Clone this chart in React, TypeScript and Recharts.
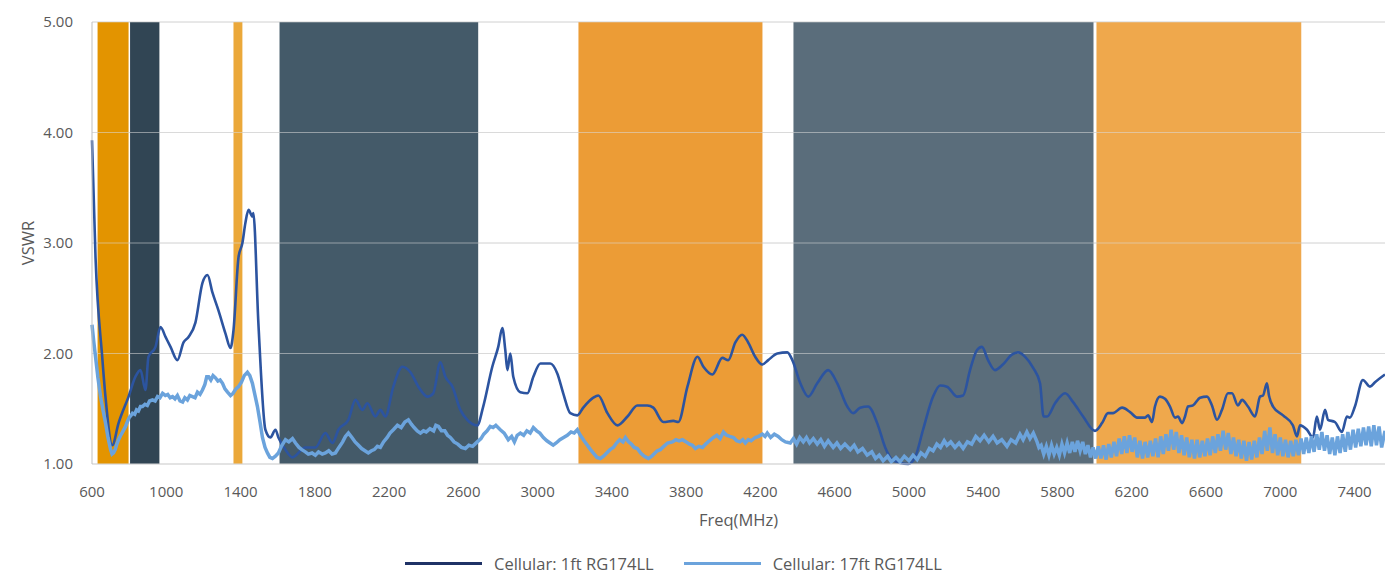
import React from 'react'
import { LineChart, Line, XAxis, YAxis, CartesianGrid, ReferenceArea, ReferenceLine, Legend } from 'recharts'

// 1ft cable
const freq1ft = [
  600, 619, 655, 673, 709, 743, 797, 834, 861, 888, 904, 942, 969, 996, 1023, 1060, 1093, 1120, 1157, 1195,
  1222, 1249, 1281, 1319, 1346, 1362, 1389, 1410, 1426, 1443, 1464, 1469, 1496, 1534, 1561, 1588, 1604, 1642, 1679, 1749,
  1803, 1857, 1895, 1927, 1981, 2019, 2056, 2083, 2126, 2153, 2180, 2223, 2272, 2315, 2358, 2406, 2438, 2476, 2503, 2541,
  2584, 2621, 2675, 2707, 2756, 2788, 2810, 2826, 2837, 2853, 2869, 2907, 2945, 2977, 3015, 3068, 3106, 3138, 3176, 3214,
  3246, 3300, 3327, 3376, 3430, 3484, 3537, 3591, 3623, 3677, 3731, 3758, 3807, 3861, 3893, 3941, 3995, 4027, 4065, 4102,
  4134, 4172, 4210, 4242, 4291, 4345, 4372, 4415, 4458, 4506, 4565, 4614, 4668, 4700, 4737, 4780, 4829, 4872, 4909, 4952,
  4996, 5033, 5076, 5130, 5168, 5205, 5259, 5292, 5329, 5366, 5393, 5426, 5463, 5506, 5554, 5588, 5626, 5669, 5706, 5725,
  5744, 5787, 5841, 5884, 5938, 6002, 6040, 6072, 6099, 6148, 6191, 6229, 6272, 6288, 6309, 6325, 6352, 6379, 6406, 6433,
  6449, 6471, 6487, 6503, 6530, 6568, 6605, 6632, 6659, 6686, 6718, 6740, 6772, 6794, 6826, 6864, 6891, 6907, 6928, 6939,
  6961, 7015, 7068, 7090, 7106, 7144, 7176, 7197, 7214, 7241, 7257, 7294, 7332, 7359, 7375, 7402, 7445, 7483, 7510, 7564,
]
const vswr1ft = [
  3.93, 2.87, 1.97, 1.6, 1.17, 1.37, 1.61, 1.79, 1.85, 1.67, 1.97, 2.06, 2.24, 2.15, 2.06, 1.94, 2.1, 2.15, 2.28, 2.64,
  2.71, 2.55, 2.39, 2.18, 2.05, 2.21, 2.87, 3.0, 3.18, 3.3, 3.24, 3.27, 2.28, 1.31, 1.24, 1.31, 1.24, 1.13, 1.06, 1.15,
  1.15, 1.28, 1.19, 1.31, 1.4, 1.58, 1.49, 1.55, 1.43, 1.49, 1.43, 1.7, 1.88, 1.83, 1.7, 1.61, 1.64, 1.92, 1.79, 1.7,
  1.49, 1.4, 1.35, 1.52, 1.88, 2.06, 2.23, 2.03, 1.85, 2.0, 1.79, 1.65, 1.64, 1.79, 1.91, 1.91, 1.82, 1.64, 1.46, 1.44,
  1.51, 1.6, 1.62, 1.46, 1.35, 1.43, 1.53, 1.53, 1.51, 1.38, 1.39, 1.38, 1.7, 1.97, 1.88, 1.81, 1.96, 1.94, 2.1, 2.17,
  2.1, 1.97, 1.9, 1.94, 2.0, 2.01, 1.94, 1.73, 1.61, 1.73, 1.85, 1.73, 1.52, 1.46, 1.51, 1.52, 1.37, 1.15, 1.04, 1.01,
  1.0, 1.06, 1.31, 1.61, 1.71, 1.7, 1.61, 1.62, 1.85, 2.03, 2.06, 1.94, 1.85, 1.9, 1.99, 2.01, 1.97, 1.87, 1.73, 1.43,
  1.43, 1.55, 1.64, 1.56, 1.43, 1.3, 1.37, 1.46, 1.46, 1.51, 1.47, 1.42, 1.42, 1.44, 1.38, 1.52, 1.61, 1.59, 1.52, 1.42,
  1.43, 1.37, 1.43, 1.52, 1.53, 1.6, 1.61, 1.53, 1.4, 1.49, 1.64, 1.64, 1.53, 1.58, 1.52, 1.43, 1.61, 1.62, 1.73, 1.62,
  1.52, 1.44, 1.35, 1.25, 1.35, 1.31, 1.24, 1.43, 1.31, 1.49, 1.4, 1.38, 1.29, 1.43, 1.42, 1.52, 1.76, 1.7, 1.74, 1.81,
]

// 17ft cable (noisy trace, read densely)
const freq17ft = [
  600, 610, 619, 632, 646, 660, 673, 686, 700, 708, 716, 725, 734, 743, 755, 768, 781, 790, 800, 810,
  818, 830, 840, 850, 861, 872, 885, 898, 910, 926, 940, 953, 966, 980, 995, 1008, 1021, 1034, 1047, 1060,
  1074, 1088, 1100, 1114, 1127, 1141, 1155, 1168, 1182, 1195, 1208, 1218, 1228, 1240, 1252, 1265, 1278, 1290, 1303, 1316,
  1330, 1346, 1360, 1375, 1389, 1405, 1420, 1437, 1450, 1464, 1478, 1491, 1505, 1518, 1532, 1545, 1558, 1572, 1588, 1604,
  1620, 1642, 1660, 1680, 1696, 1715, 1730, 1749, 1765, 1785, 1803, 1820, 1840, 1857, 1875, 1893, 1911, 1930, 1950, 1965,
  1981, 2000, 2017, 2035, 2052, 2070, 2088, 2105, 2120, 2137, 2153, 2170, 2190, 2205, 2223, 2245, 2265, 2285, 2304, 2320,
  2335, 2352, 2369, 2385, 2400, 2420, 2440, 2452, 2466, 2482, 2500, 2515, 2530, 2550, 2570, 2590, 2611, 2630, 2650, 2675,
  2695, 2710, 2728, 2745, 2760, 2775, 2799, 2820, 2842, 2860, 2875, 2890, 2907, 2925, 2942, 2960, 2977, 2995, 3012, 3031,
  3050, 3067, 3084, 3100, 3120, 3140, 3160, 3180, 3197, 3214, 3230, 3250, 3268, 3285, 3305, 3320, 3338, 3355, 3372, 3390,
  3408, 3425, 3442, 3460, 3473, 3490, 3505, 3520, 3537, 3555, 3575, 3597, 3615, 3632, 3645, 3661, 3680, 3700, 3726, 3745,
  3762, 3780, 3800, 3818, 3834, 3850, 3868, 3888, 3905, 3925, 3947, 3965, 3983, 4001, 4018, 4035, 4055, 4072, 4090, 4105,
  4119, 4135, 4150, 4172, 4190, 4210, 4225, 4237, 4255, 4275, 4296, 4315, 4335, 4361, 4378, 4395, 4412, 4431, 4448, 4465,
  4485, 4506, 4525, 4545, 4565, 4592, 4612, 4632, 4655, 4684, 4705, 4725, 4750, 4775, 4800, 4820, 4840, 4861, 4885, 4905,
  4930, 4952, 4975, 5000, 5022, 5044, 5065, 5088, 5110, 5130, 5150, 5170, 5190, 5205, 5225, 5248, 5270, 5292, 5315, 5338,
  5360, 5383, 5405, 5430, 5453, 5475, 5500, 5528, 5550, 5575, 5598, 5615, 5635, 5652, 5670, 5690, 5700, 5712, 5726, 5740,
  5754, 5768, 5782, 5796, 5810, 5824, 5838, 5852, 5866, 5880, 5894, 5908, 5922, 5936, 5950, 5964, 5978, 5992, 6006, 6020,
  6034, 6048, 6062, 6076, 6090, 6104, 6118, 6132, 6146, 6160, 6174, 6188, 6202, 6216, 6230, 6244, 6258, 6272, 6286, 6300,
  6314, 6328, 6342, 6356, 6370, 6384, 6398, 6412, 6426, 6440, 6454, 6468, 6482, 6496, 6510, 6524, 6538, 6552, 6566, 6580,
  6594, 6608, 6622, 6636, 6650, 6664, 6678, 6692, 6706, 6720, 6734, 6748, 6762, 6776, 6790, 6804, 6818, 6832, 6846, 6860,
  6874, 6888, 6902, 6916, 6930, 6944, 6958, 6972, 6986, 7000, 7014, 7028, 7042, 7056, 7070, 7084, 7098, 7112, 7126, 7140,
  7154, 7168, 7182, 7196, 7210, 7224, 7238, 7252, 7266, 7280, 7294, 7308, 7322, 7336, 7350, 7364, 7378, 7392, 7406, 7420,
  7434, 7448, 7462, 7476, 7490, 7504, 7518, 7532, 7546, 7564,
]
const vswr17ft = [
  2.26, 2.1, 1.97, 1.78, 1.61, 1.48, 1.37, 1.24, 1.13, 1.09, 1.1, 1.13, 1.18, 1.22, 1.26, 1.3, 1.34, 1.38, 1.42, 1.44,
  1.46, 1.45, 1.49, 1.48, 1.52, 1.52, 1.54, 1.53, 1.57, 1.58, 1.57, 1.61, 1.6, 1.64, 1.62, 1.63, 1.6, 1.61, 1.59, 1.62,
  1.57, 1.56, 1.6, 1.58, 1.62, 1.61, 1.6, 1.65, 1.63, 1.67, 1.72, 1.79, 1.79, 1.76, 1.8, 1.78, 1.75, 1.76, 1.73, 1.68,
  1.65, 1.62, 1.64, 1.68, 1.7, 1.74, 1.8, 1.83, 1.8, 1.73, 1.62, 1.52, 1.38, 1.24, 1.15, 1.1, 1.06, 1.05, 1.07, 1.1,
  1.16, 1.22, 1.2, 1.23, 1.19, 1.15, 1.13, 1.11, 1.09, 1.1, 1.08, 1.11, 1.09, 1.1, 1.12, 1.09, 1.1, 1.15, 1.2, 1.25,
  1.28, 1.24, 1.2, 1.17, 1.14, 1.12, 1.1, 1.12, 1.13, 1.16, 1.15, 1.2, 1.24, 1.28, 1.31, 1.35, 1.33, 1.38, 1.4, 1.36,
  1.33, 1.3, 1.28, 1.3, 1.29, 1.32, 1.3, 1.35, 1.34, 1.3, 1.3, 1.26, 1.24, 1.2, 1.18, 1.15, 1.14, 1.17, 1.16, 1.2,
  1.23, 1.27, 1.3, 1.34, 1.33, 1.35, 1.31, 1.28, 1.22, 1.25, 1.2, 1.26, 1.28, 1.26, 1.3, 1.28, 1.33, 1.3, 1.28, 1.24,
  1.21, 1.19, 1.17, 1.19, 1.22, 1.24, 1.26, 1.29, 1.28, 1.31, 1.26, 1.21, 1.17, 1.13, 1.09, 1.06, 1.05, 1.07, 1.1, 1.13,
  1.15, 1.19, 1.22, 1.2, 1.24, 1.2, 1.18, 1.15, 1.14, 1.1, 1.07, 1.05, 1.07, 1.1, 1.12, 1.13, 1.16, 1.19, 1.2, 1.22,
  1.21, 1.22, 1.2, 1.18, 1.17, 1.14, 1.16, 1.15, 1.18, 1.21, 1.24, 1.26, 1.23, 1.29, 1.26, 1.25, 1.24, 1.21, 1.2, 1.22,
  1.19, 1.22, 1.21, 1.24, 1.25, 1.27, 1.25, 1.28, 1.24, 1.27, 1.25, 1.22, 1.2, 1.19, 1.23, 1.18, 1.24, 1.2, 1.24, 1.19,
  1.23, 1.18, 1.22, 1.16, 1.21, 1.15, 1.19, 1.14, 1.18, 1.13, 1.17, 1.11, 1.14, 1.08, 1.11, 1.05, 1.08, 1.03, 1.07, 1.02,
  1.06, 1.02, 1.07, 1.03, 1.08, 1.04, 1.1, 1.07, 1.14, 1.12, 1.18, 1.15, 1.21, 1.17, 1.2, 1.15, 1.19, 1.14, 1.2, 1.18,
  1.25, 1.21, 1.26, 1.2, 1.25, 1.19, 1.22, 1.16, 1.22, 1.19, 1.27, 1.22, 1.29, 1.23, 1.28, 1.2, 1.15, 1.17, 1.09, 1.16,
  1.08, 1.17, 1.09, 1.15, 1.08, 1.18, 1.1, 1.19, 1.1, 1.2, 1.11, 1.21, 1.12, 1.2, 1.09, 1.17, 1.06, 1.15, 1.05, 1.16,
  1.05, 1.17, 1.04, 1.18, 1.06, 1.2, 1.07, 1.23, 1.09, 1.25, 1.1, 1.26, 1.11, 1.24, 1.06, 1.21, 1.05, 1.2, 1.06, 1.21,
  1.07, 1.23, 1.06, 1.25, 1.09, 1.27, 1.12, 1.31, 1.13, 1.29, 1.1, 1.26, 1.08, 1.24, 1.06, 1.22, 1.05, 1.22, 1.06, 1.21,
  1.07, 1.23, 1.08, 1.25, 1.1, 1.27, 1.12, 1.3, 1.13, 1.28, 1.09, 1.24, 1.07, 1.22, 1.05, 1.21, 1.03, 1.2, 1.04, 1.21,
  1.06, 1.24, 1.09, 1.3, 1.12, 1.33, 1.1, 1.27, 1.08, 1.24, 1.07, 1.22, 1.06, 1.21, 1.07, 1.22, 1.08, 1.23, 1.09, 1.24,
  1.1, 1.25, 1.11, 1.27, 1.13, 1.29, 1.12, 1.26, 1.09, 1.24, 1.08, 1.25, 1.1, 1.27, 1.11, 1.29, 1.13, 1.31, 1.15, 1.32,
  1.16, 1.33, 1.17, 1.34, 1.16, 1.35, 1.17, 1.34, 1.15, 1.3,
]

// shaded frequency bands (MHz)
const bandStart = [630, 805, 1362, 1610, 3220, 4378, 6010]
const bandEnd = [797, 963, 1410, 2680, 4211, 5994, 7113]

const xTicks = [600, 1000, 1400, 1800, 2200, 2600, 3000, 3400, 3800, 4200, 4600, 5000, 5400, 5800, 6200, 6600, 7000, 7400]
const yTicks = [1, 2, 3, 4, 5]

const seriesNames = ['Cellular: 1ft RG174LL', 'Cellular: 17ft RG174LL']

const bandColors = ['#E39400', '#314554', '#EBA83A', '#445A69', '#EC9C36', '#5A6D7B', '#EFA84C']
const lineColors = ['#2C54A0', '#6BA3DC']
const legendColors = ['#1F3266', '#6BA3DC']
const font = '"Open Sans", sans-serif'
const textColor = '#595959'

const data1ft = freq1ft.map((f, i) => ({ f, v: vswr1ft[i] }))
const data17ft = freq17ft.map((f, i) => ({ f, v: vswr17ft[i] }))

function ChartLegend() {
  return (
    <div style={{ display: 'flex', alignItems: 'center', paddingLeft: 405, paddingTop: 18, fontFamily: font, fontSize: 16.5, color: textColor }}>
      {seriesNames.map((name, i) => (
        <div key={name} style={{ display: 'flex', alignItems: 'center', marginRight: 30 }}>
          <div style={{ width: 77, height: 3, background: legendColors[i], marginRight: 12 }} />
          <span>{name}</span>
        </div>
      ))}
    </div>
  )
}

export default function App() {
  return (
    <div style={{ position: 'absolute', left: 0, top: 0, width: 1385, height: 574, background: '#fff' }}>
      <LineChart width={1385} height={574} margin={{ top: 22, right: 0, left: 0, bottom: 0 }}>
        <CartesianGrid vertical={false} stroke="#DADADA" />
        {bandStart.map((s, i) => (
          <ReferenceArea key={s} x1={s} x2={bandEnd[i]} y1={1} y2={5} fill={bandColors[i]} fillOpacity={1} stroke="none" />
        ))}
        {yTicks.slice(1).map((t) => (
          <ReferenceLine key={t} y={t} stroke="#DADADA" strokeOpacity={0.55} />
        ))}
        <XAxis
          type="number"
          dataKey="f"
          domain={[600, 7564]}
          ticks={xTicks}
          tickLine={false}
          axisLine={{ stroke: '#D9D9D9' }}
          tickMargin={16}
          height={70}
          tick={{ fill: textColor, fontSize: 15, fontFamily: font }}
          label={{ value: 'Freq(MHz)', position: 'insideBottom', offset: 8, fill: textColor, fontSize: 16.5, fontFamily: font }}
        />
        <YAxis
          type="number"
          domain={[1, 5]}
          ticks={yTicks}
          tickFormatter={(v: number) => v.toFixed(2)}
          tickLine={false}
          axisLine={{ stroke: '#BFBFBF' }}
          tickMargin={13}
          width={92}
          tick={{ fill: textColor, fontSize: 15, fontFamily: font }}
          label={{
            content: (props: any) => {
              const vb = props.viewBox || { x: 0, y: 22, width: 92, height: 442 }
              const cx = vb.x + 30
              const cy = vb.y + vb.height / 2
              return (
                <text x={cx} y={cy} transform={`rotate(-90 ${cx} ${cy})`} textAnchor="middle" dominantBaseline="middle" fill={textColor} fontSize={16.5} fontFamily={font}>
                  VSWR
                </text>
              )
            },
          }}
        />
        <Line data={data1ft} dataKey="v" name={seriesNames[0]} type="monotone" stroke={lineColors[0]} strokeWidth={2.6} dot={false} isAnimationActive={false} />
        <Line data={data17ft} dataKey="v" name={seriesNames[1]} type="linear" stroke={lineColors[1]} strokeWidth={3.5} dot={false} isAnimationActive={false} />
        <Legend verticalAlign="bottom" height={40} content={() => <ChartLegend />} />
      </LineChart>
    </div>
  )
}
